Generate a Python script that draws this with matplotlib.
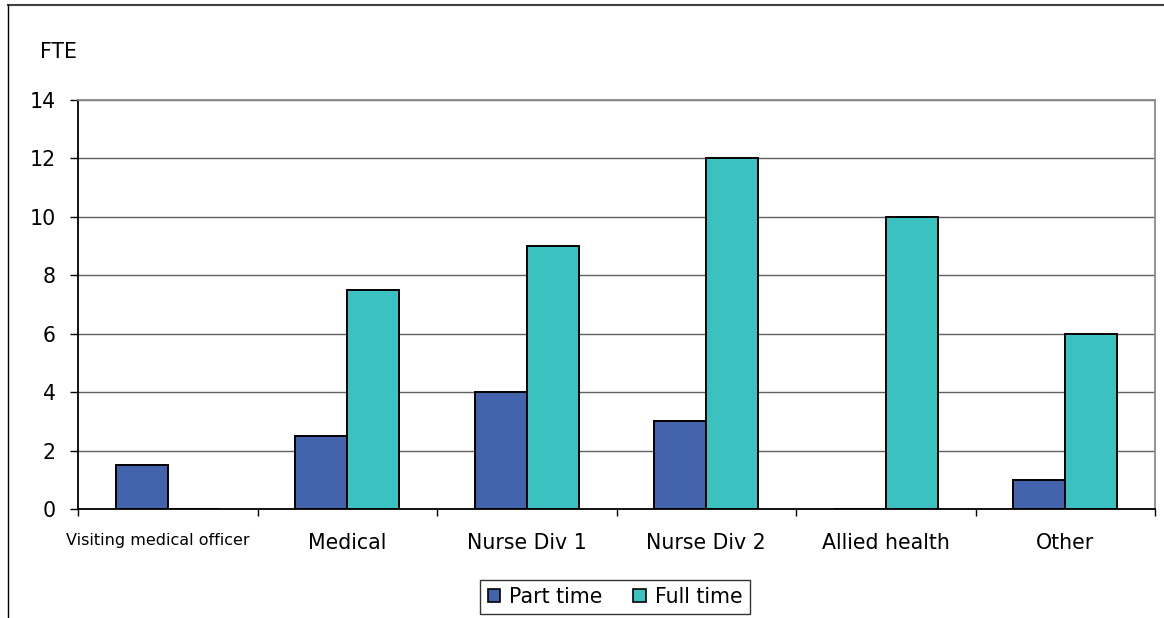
import matplotlib
matplotlib.use("Agg")
import matplotlib.pyplot as plt
from matplotlib.lines import Line2D
from matplotlib.transforms import ScaledTranslation
import numpy as np

categories = ["Visiting medical officer", "Medical", "Nurse Div 1", "Nurse Div 2", "Allied health", "Other"]
part_time = [1.5, 2.5, 4, 3, 0, 1]
full_time = [0, 7.5, 9, 12, 10, 6]
series_names = ["Part time", "Full time"]
y_ticks = [0, 2, 4, 6, 8, 10, 12, 14]

part_color = "#4363AD"
full_color = "#3CC1C1"

plt.rcParams["font.family"] = ["DejaVu Sans"]
FS = 14.8

W, H = 1164, 618
fig = plt.figure(figsize=(W / 100, H / 100), dpi=100)
ax = fig.add_axes([78 / W, 1 - 509 / H, (1155 - 78) / W, (509 - 100) / H])

x = np.arange(len(categories))
bw = 0.29
ax.bar(x - bw / 2, part_time, bw, color=part_color, edgecolor="black", linewidth=1.4, zorder=3, label=series_names[0])
ax.bar(x + bw / 2, full_time, bw, color=full_color, edgecolor="black", linewidth=1.4, zorder=3, label=series_names[1])

ax.set_xlim(-0.5, len(categories) - 0.5)
ax.set_ylim(0, 14)
ax.set_yticks(y_ticks)
ax.set_yticklabels([str(v) for v in y_ticks], fontsize=FS)
ax.yaxis.grid(True, color="#606060", linewidth=1.0, zorder=0)
ax.set_axisbelow(True)

# category boundary ticks on x axis, labels centred under each group
ax.set_xticks(np.arange(len(categories) + 1) - 0.5)
ax.set_xticklabels([])
ax.set_xticks(x, minor=True)
ax.set_xticklabels(categories, minor=True)
ax.tick_params(axis="x", which="minor", length=0, pad=17, labelsize=FS)
ax.tick_params(axis="x", which="major", length=5, width=1, direction="out", color="black")
ax.tick_params(axis="y", length=6, width=1, direction="out", color="black", pad=10)
lbls = ax.get_xticklabels(minor=True)
lbls[0].set_fontsize(11.5)
lbls[0].set_transform(lbls[0].get_transform() + ScaledTranslation(-10 / 100, 0, fig.dpi_scale_trans))

for side in ("top", "right"):
    ax.spines[side].set_color("#8a8a8a")
    ax.spines[side].set_linewidth(1.3)
for side in ("left", "bottom"):
    ax.spines[side].set_color("black")
    ax.spines[side].set_linewidth(1.3)

fig.text(40 / W, 1 - 52 / H, "FTE", fontsize=FS, va="center", ha="left")

handles = [plt.Rectangle((0, 0), 1, 1, facecolor=part_color, edgecolor="black", linewidth=1.2),
           plt.Rectangle((0, 0), 1, 1, facecolor=full_color, edgecolor="black", linewidth=1.2)]
leg = fig.legend(handles, series_names, loc="center", bbox_to_anchor=(615 / W, 1 - 597 / H),
                 ncol=2, fontsize=FS, frameon=True, fancybox=False, edgecolor="black",
                 handlelength=0.6, handleheight=0.6, handletextpad=0.45, columnspacing=1.5,
                 borderpad=0.35, borderaxespad=0)
leg.get_frame().set_linewidth(1.0)

# outer chart frame
fig.add_artist(Line2D([8 / W, 1.0], [1 - 5 / H, 1 - 5 / H], color="#404040", linewidth=1.5, transform=fig.transFigure))
fig.add_artist(Line2D([8 / W, 8 / W], [1 - 5 / H, 0], color="black", linewidth=1.0, transform=fig.transFigure))

fig.savefig("out.png", dpi=100)
